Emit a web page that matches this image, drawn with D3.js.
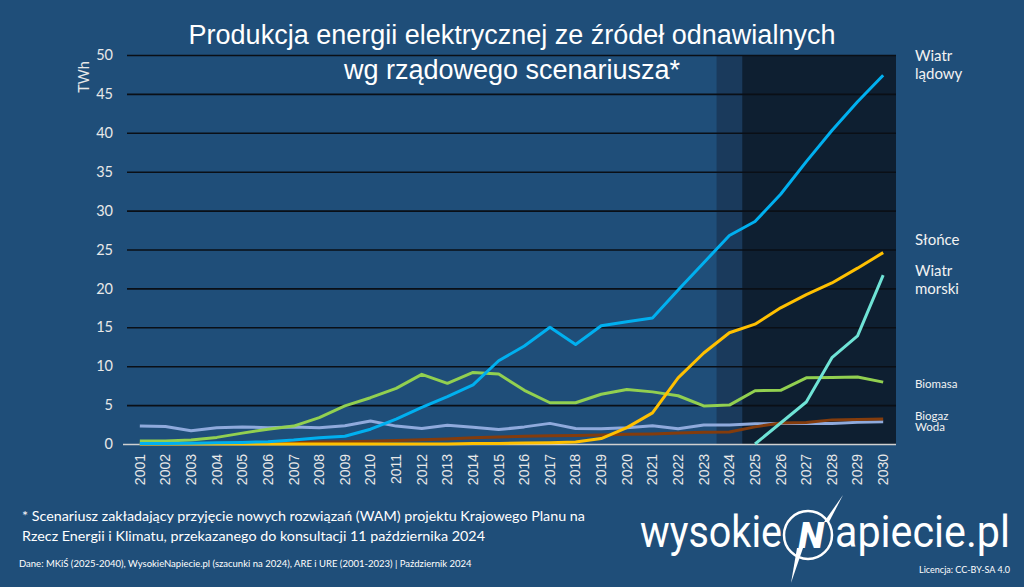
<!DOCTYPE html>
<html>
<head>
<meta charset="utf-8">
<script src="https://cdn.jsdelivr.net/npm/d3@7"></script>
<style>
  body { margin: 0; background: #1f4e79; }
  svg { display: block; }
</style>
</head>
<body>
<div id="chart"></div>
<script>
// --- data (TWh) ---
const years = ["2001","2002","2003","2004","2005","2006","2007","2008","2009","2010",
               "2011","2012","2013","2014","2015","2016","2017","2018","2019","2020",
               "2021","2022","2023","2024","2025","2026","2027","2028","2029","2030"];

const woda = [2.3,2.25,1.7,2.1,2.2,2.1,2.2,2.1,2.35,2.95,
              2.3,2.0,2.4,2.15,1.85,2.2,2.65,2.0,1.97,2.1,
              2.35,1.95,2.45,2.45,2.6,2.65,2.65,2.65,2.8,2.85];
const biogaz = [0.05,0.05,0.05,0.1,0.1,0.15,0.15,0.25,0.3,0.35,
                0.45,0.55,0.65,0.8,0.9,1.0,1.05,1.1,1.15,1.25,
                1.3,1.4,1.5,1.55,2.2,2.7,2.75,3.1,3.15,3.2];
const biomasa = [0.4,0.4,0.5,0.85,1.4,1.9,2.3,3.4,4.9,5.95,
                 7.15,8.95,7.8,9.2,9.0,6.9,5.3,5.3,6.4,7.0,
                 6.7,6.2,4.9,5.0,6.85,6.9,8.5,8.55,8.6,7.95];
const slonce = [0,0,0,0,0,0,0,0,0,0,
                0,0,0,0.05,0.06,0.12,0.17,0.25,0.7,2.1,
                4.0,8.5,11.7,14.3,15.4,17.5,19.2,20.7,22.6,24.6];
const wiatrLadowy = [0.05,0.06,0.1,0.15,0.2,0.3,0.5,0.8,1.0,1.9,
                     3.2,4.7,6.1,7.6,10.7,12.6,15.0,12.8,15.2,15.7,
                     16.2,19.8,23.3,26.8,28.6,32.1,36.3,40.3,44.0,47.4];
const wiatrMorski = [null,null,null,null,null,null,null,null,null,null,
                     null,null,null,null,null,null,null,null,null,null,
                     null,null,null,null,0,2.7,5.4,11.1,13.9,21.7];

const yTicks = [0,5,10,15,20,25,30,35,40,45,50];

// drawing order = stacking order in the original
const series = [
  {name: "Woda", values: woda, color: "#8faadc"},
  {name: "Biogaz", values: biogaz, color: "#843c0c"},
  {name: "Biomasa", values: biomasa, color: "#92d050"},
  {name: "Słońce", values: slonce, color: "#ffc000"},
  {name: "Wiatr lądowy", values: wiatrLadowy, color: "#00b0f0"},
  {name: "Wiatr morski", values: wiatrMorski, color: "#6fe3d6"}
];

// --- layout ---
const W = 1024, H = 587;
const plot = {left: 127, right: 896, top: 55, bottom: 444};

const svg = d3.select("#chart").append("svg")
  .attr("width", W).attr("height", H);

svg.append("rect").attr("width", W).attr("height", H).attr("fill", "#1f4e79");

const x = d3.scaleBand().domain(years).range([plot.left, plot.right]);
const y = d3.scaleLinear().domain([0, 50]).range([plot.bottom, plot.top]);
const cx = d => x(d) + x.bandwidth() / 2;

// shaded forecast areas
svg.append("rect")
  .attr("x", x("2024")).attr("y", plot.top)
  .attr("width", x.bandwidth()).attr("height", plot.bottom - plot.top)
  .attr("fill", "#1a3a5c");
svg.append("rect")
  .attr("x", x("2025")).attr("y", plot.top)
  .attr("width", plot.right - x("2025")).attr("height", plot.bottom - plot.top)
  .attr("fill", "#0e1f31");

// y axis + gridlines
const yAxis = svg.append("g")
  .attr("transform", `translate(${plot.left},0)`)
  .call(d3.axisLeft(y).tickValues(yTicks).tickSize(-(plot.right - plot.left)).tickPadding(14));
yAxis.select(".domain").remove();
yAxis.selectAll(".tick line")
  .attr("stroke", d => d === 0 ? "#d0d0d0" : "#0a0f16")
  .attr("stroke-width", d => d === 0 ? 1.5 : 1.6)
  .attr("x1", d => d === 0 ? -4 : 0);
yAxis.selectAll(".tick text")
  .attr("fill", "#e8e8e8")
  .style("font-family", "Lato, 'Open Sans', sans-serif")
  .style("font-size", "14.5px");

svg.append("text")
  .attr("transform", `translate(89,77) rotate(-90)`)
  .attr("text-anchor", "middle")
  .attr("fill", "#e8e8e8")
  .style("font-family", "Lato, sans-serif")
  .style("font-size", "14.5px")
  .text("TWh");

// x axis labels
const xAxis = svg.append("g")
  .attr("transform", `translate(0,${plot.bottom})`)
  .call(d3.axisBottom(x).tickSize(0).tickPadding(0));
xAxis.select(".domain").remove();
xAxis.selectAll(".tick text")
  .attr("transform", "rotate(-90)")
  .attr("text-anchor", "end")
  .attr("x", -10).attr("y", 0).attr("dy", "0.35em")
  .attr("fill", "#e8e8e8")
  .style("font-family", "'Liberation Sans', Arial, sans-serif")
  .style("font-size", "14px");

// lines
const line = d3.line()
  .defined(d => d.v != null)
  .x(d => cx(d.year))
  .y(d => y(d.v));

svg.append("g").selectAll("path")
  .data(series)
  .enter().append("path")
  .attr("d", s => line(s.values.map((v, i) => ({year: years[i], v}))))
  .attr("fill", "none")
  .attr("stroke", s => s.color)
  .attr("stroke-width", 3)
  .attr("stroke-linejoin", "round");

// series labels on the right
const labels = [
  {lines: ["Wiatr", "lądowy"], y: 61, size: 15},
  {lines: ["Słońce"], y: 245, size: 15},
  {lines: ["Wiatr", "morski"], y: 276, size: 15},
  {lines: ["Biomasa"], y: 388, size: 11.5},
  {lines: ["Biogaz", "Woda"], y: 420, size: 11.5}
];
labels.forEach(l => {
  const t = svg.append("text")
    .attr("x", 915).attr("y", l.y)
    .attr("fill", "#f2f2f2")
    .style("font-family", "Lato, 'Open Sans', sans-serif")
    .style("font-size", l.size + "px");
  l.lines.forEach((s, i) => {
    t.append("tspan").attr("x", 915).attr("dy", i === 0 ? 0 : (l.size > 12 ? 18 : 11)).text(s);
  });
});

// title
const title = svg.append("text")
  .attr("text-anchor", "middle")
  .attr("fill", "#ffffff")
  .style("font-family", "'Liberation Sans', Arial, sans-serif")
  .style("font-size", "27px");
title.append("tspan").attr("x", 512).attr("y", 44).text("Produkcja energii elektrycznej ze źródeł odnawialnych");
title.append("tspan").attr("x", 512).attr("y", 79).text("wg rządowego scenariusza*");

// footnotes
svg.append("text")
  .attr("x", 22).attr("y", 521)
  .attr("fill", "#ffffff")
  .style("font-family", "Lato, sans-serif").style("font-size", "14.3px")
  .text("* Scenariusz zakładający przyjęcie nowych rozwiązań (WAM) projektu Krajowego Planu na");
svg.append("text")
  .attr("x", 22).attr("y", 541)
  .attr("fill", "#ffffff")
  .style("font-family", "Lato, sans-serif").style("font-size", "14.3px")
  .text("Rzecz Energii i Klimatu, przekazanego do konsultacji 11 października 2024");
svg.append("text")
  .attr("x", 19).attr("y", 567)
  .attr("fill", "#ffffff")
  .style("font-family", "Lato, sans-serif").style("font-size", "9.5px")
  .text("Dane: MKiŚ (2025-2040), WysokieNapiecie.pl (szacunki na 2024), ARE i URE (2001-2023)  |  Październik 2024");

// logo: condensed look by squeezing the text horizontally
const logo = svg.append("g").attr("fill", "#ffffff");
function logoWord(str, x0, width) {
  const t = logo.append("text")
    .style("font-family", "Roboto, sans-serif").style("font-weight", 400).style("font-size", "45px")
    .text(str);
  const k = width / t.node().getComputedTextLength();
  t.attr("transform", `translate(${x0},547) scale(${k},1)`);
}
logoWord("wysokie", 640, 142);
logoWord("apiecie.pl", 835, 175);

logo.append("circle")
  .attr("cx", 808).attr("cy", 535).attr("r", 24)
  .attr("fill", "none").attr("stroke", "#ffffff").attr("stroke-width", 2.5);
logo.append("text")
  .attr("x", 811).attr("y", 548).attr("text-anchor", "middle")
  .style("font-family", "Roboto, sans-serif").style("font-weight", 900)
  .style("font-style", "italic").style("font-size", "37px")
  .text("N");
logo.append("path")
  .attr("d", "M843,495 L829,522 L824,522 Z")
  .attr("fill", "#ffffff");
logo.append("path")
  .attr("d", "M797,548 L803,548 L791,583 Z")
  .attr("fill", "#ffffff");

svg.append("text")
  .attr("x", 1010).attr("y", 573).attr("text-anchor", "end")
  .attr("fill", "#ffffff")
  .style("font-family", "Lato, sans-serif").style("font-size", "9px")
  .text("Licencja: CC-BY-SA 4.0");
</script>
</body>
</html>
